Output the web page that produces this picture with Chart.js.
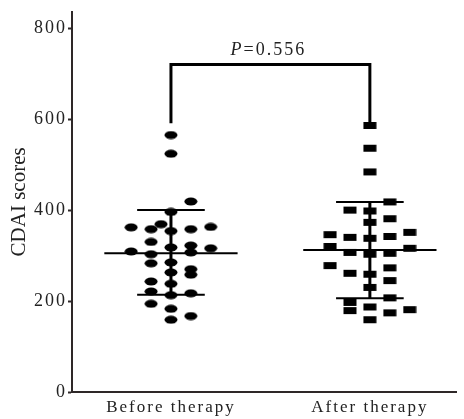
<!DOCTYPE html>
<html>
<head>
<meta charset="utf-8">
<script src="https://cdn.jsdelivr.net/npm/chart.js@4/dist/chart.umd.min.js"></script>
<style>
html,body{margin:0;padding:0;background:#fff;}
#wrap{width:464px;height:419px;position:relative;}
</style>
</head>
<body>
<div id="wrap"><canvas id="c"></canvas></div>
<script>
// ---- data ----
const categories = ['Before therapy', 'After therapy'];
const yTicks = [0, 200, 400, 600, 800];
const yTitle = 'CDAI scores';
const beforeValues = [565,524,419,396,369,362,358,354,358,363,330,318,322,309,303,307,316,283,285,263,270,258,243,238,221,217,213,194,183,167,159];
const beforeCols   = [0,0,1,0,-0.5,-2,-1,0,1,2,-1,0,1,-2,-1,1,2,-1,0,0,1,1,-1,0,-1,1,0,-1,0,1,0];
const afterValues  = [586,536,484,418,400,398,373,381,346,340,338,342,351,320,307,303,305,316,278,261,259,273,245,230,207,197,179,187,174,181,159];
const afterCols    = [0,0,0,1,-1,0,0,1,-2,-1,0,1,2,-2,-1,0,1,2,-2,-1,0,1,1,0,1,-1,-1,0,1,2,0];
const means  = [305, 312];
const sdHigh = [400, 418];
const sdLow  = [214, 206];
const bracketTop = 720;
const bracketEnds = [591, 590];
const pLabel = '=0.556';

// ---- styling helpers ----
const INK = '#000';
const AXIS = '#2e2828';
const TXT = '#222';
const SERIF = "'Liberation Serif', 'DejaVu Serif', serif";
const COLW = 0.1, MEANW = 0.335, SDW = 0.17;

function markerCanvas(kind) {
  const w = 14, h = 9;
  const cv = document.createElement('canvas');
  cv.width = w; cv.height = h;
  const g = cv.getContext('2d');
  g.fillStyle = INK;
  if (kind === 'ellipse') {
    g.beginPath(); g.ellipse(w/2, h/2, 6.5, 4, 0, 0, Math.PI*2); g.fill();
  } else {
    g.fillRect(0.5, 1, 13, 7);
  }
  return cv;
}
const dotImg = markerCanvas('ellipse');
const sqImg = markerCanvas('rect');

const beforePts = beforeValues.map((v,i)=>({x: 1 + beforeCols[i]*COLW, y: v}));
const afterPts  = afterValues.map((v,i)=>({x: 2 + afterCols[i]*COLW, y: v}));

function lineDs(data, width) {
  return {type:'line', data, borderColor: INK, borderWidth: width, pointRadius: 0, fill:false, tension:0, showLine:true, order: 2};
}
const lineSets = [];
[0,1].forEach(k=>{
  const c = k+1;
  lineSets.push(lineDs([{x:c-MEANW,y:means[k]},{x:c+MEANW,y:means[k]}], 2));
  lineSets.push(lineDs([{x:c-SDW,y:sdHigh[k]},{x:c+SDW,y:sdHigh[k]}], 2));
  lineSets.push(lineDs([{x:c-SDW,y:sdLow[k]},{x:c+SDW,y:sdLow[k]}], 2));
  lineSets.push(lineDs([{x:c,y:sdLow[k]},{x:c,y:sdHigh[k]}], 3));
});
lineSets.push(lineDs([{x:1,y:bracketEnds[0]},{x:1,y:bracketTop},{x:2,y:bracketTop},{x:2,y:bracketEnds[1]}], 3));

const textPlugin = {
  id:'ptext',
  beforeDraw(chart){ chart.ctx.letterSpacing = '2px'; },
  afterDatasetsDraw(chart){
    const {ctx, scales:{x,y}} = chart;
    ctx.save();
    ctx.letterSpacing = '2px';
    const cx = x.getPixelForValue(1.5) - 2;
    const cy = y.getPixelForValue(bracketTop) - 10;
    ctx.fillStyle = TXT;
    ctx.textBaseline = 'alphabetic';
    ctx.font = 'italic 18px ' + SERIF;
    const w1 = ctx.measureText('P').width;
    ctx.font = '18px ' + SERIF;
    const w2 = ctx.measureText(pLabel).width;
    const start = cx - (w1 + w2)/2;
    ctx.font = 'italic 18px ' + SERIF;
    ctx.textAlign = 'left';
    ctx.fillText('P', start, cy);
    ctx.font = '18px ' + SERIF;
    ctx.fillText(pLabel, start + w1, cy);
    ctx.restore();
  },
  afterDraw(chart){
    const {ctx, scales:{y}} = chart;
    ctx.save();
    ctx.letterSpacing = '0px';
    ctx.fillStyle = TXT;
    ctx.font = '21px ' + SERIF;
    ctx.translate(19, (y.top + y.bottom)/2);
    ctx.rotate(-Math.PI/2);
    ctx.textAlign = 'center';
    ctx.textBaseline = 'middle';
    ctx.fillText(yTitle, 0, 0);
    ctx.restore();
    ctx.letterSpacing = '0px';
  }
};

new Chart(document.getElementById('c'), {
  type: 'scatter',
  data: {
    datasets: [
      {label: categories[0], data: beforePts, pointStyle: dotImg, pointRadius: 7, order: 1},
      {label: categories[1], data: afterPts, pointStyle: sqImg, pointRadius: 7, order: 1},
      ...lineSets
    ]
  },
  options: {
    responsive: true,
    maintainAspectRatio: false,
    animation: false,
    events: [],
    layout: {padding: {top: 10, right: 0, left: 0, bottom: 0}},
    plugins: {legend: {display:false}, tooltip:{enabled:false}},
    scales: {
      x: {
        type: 'linear', min: 0.5025, max: 2.433,
        afterBuildTicks(s){ s.ticks = [{value:1},{value:2}]; },
        afterFit(s){ s.height = 27; },
        grid: {display:false, drawTicks:false},
        border: {display:true, color: AXIS, width: 2},
        ticks: {
          padding: 5, color: TXT, maxRotation: 0, autoSkip: false,
          font: {family: SERIF, size: 17},
          callback: (v)=> categories[Math.round(v)-1] || ''
        }
      },
      y: {
        type: 'linear', min: 0, max: 836,
        afterBuildTicks(s){ s.ticks = yTicks.map(v=>({value:v})); },
        afterFit(s){ s.width = 72; },
        grid: {display:true, drawOnChartArea:false, drawTicks:true, tickLength:4, color: AXIS, tickWidth: 2},
        border: {display:true, color: AXIS, width: 2},
        ticks: {padding: 1, color: TXT, font:{family:SERIF, size:18}}
      }
    }
  },
  plugins: [textPlugin]
});
</script>
</body>
</html>
